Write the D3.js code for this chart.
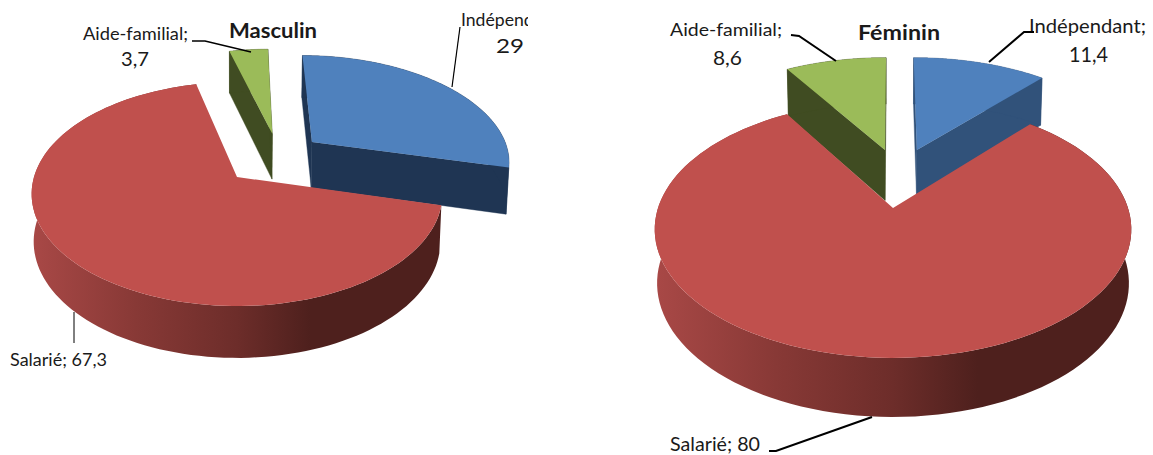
<!DOCTYPE html>
<html><head><meta charset="utf-8">
<script src="https://cdn.jsdelivr.net/npm/d3@7"></script>
<style>html,body{margin:0;padding:0;background:#fff}svg{display:block}text{font-family:Lato,"Open Sans",sans-serif;fill:#1a1a1a}</style>
</head><body><svg id="c" width="1153" height="455"></svg>
<script>
const categories = ["Indépendant", "Salarié", "Aide-familial"];
const masculinValues = [29, 67.3, 3.7];
const femininValues = [11.4, 80, 8.6];
const topColors = ["#4f81bd", "#c0504d", "#9bbb59"];

const svg = d3.select("#c");
const defs = svg.append("defs");
defs.append("clipPath").attr("id","clipInd").append("rect").attr("x",440).attr("y",0).attr("width",88).attr("height",60);

function drawPie3D(cfg){
  const pie = d3.pie().sort(null).startAngle(0).endAngle(2*Math.PI)(cfg.values);
  const gid = "band"+cfg.id;
  const g = defs.append("linearGradient").attr("id",gid).attr("gradientUnits","userSpaceOnUse")
    .attr("x1",cfg.cx-cfg.R).attr("x2",cfg.cx+cfg.R).attr("y1",0).attr("y2",0);
  [[0,"#a84846"],[.25,"#883936"],[.5,"#6d2d2a"],[.68,"#4e201d"],[1,"#4e201d"]]
    .forEach(s=>g.append("stop").attr("offset",s[0]).attr("stop-color",s[1]));

  const proj = (u,v,low)=>{
    const w = 1-cfg.k*v;
    const X = cfg.cx+cfg.R*u/w, Y = cfg.cy+cfg.S*v/w;
    if(!low) return [X,Y];
    return [cfg.cx+(X-cfg.cx)*cfg.shrink, Y+cfg.depth/Math.pow(w,cfg.p)];
  };
  const line = d3.line();
  const layer = svg.append("g");
  [0,2,1].forEach(i=>{
    const a = pie[i], ex = cfg.explode[i];
    const rim = t=>[ex[0]+Math.sin(t), ex[1]-Math.cos(t)];
    const ts = d3.range(0,121).map(n=>a.startAngle+(a.endAngle-a.startAngle)*n/120);
    const topRim = ts.map(t=>proj(...rim(t),false));
    const lowRim = ts.map(t=>proj(...rim(t),true));
    const cT = proj(ex[0],ex[1],false), cL = proj(ex[0],ex[1],true);
    const wall = cfg.walls[i];
    [[topRim[0],lowRim[0]],[topRim[120],lowRim[120]]].forEach(e=>{
      if(i===1) return;
      layer.append("path").attr("d",line([cT,e[0],e[1],cL])+"Z").attr("fill",wall).attr("stroke",wall).attr("stroke-width",.4);
    });
    const band = layer.append("path").attr("d",line(topRim.concat(lowRim.slice().reverse()))+"Z");
    if(i===1) band.attr("fill",`url(#${gid})`); else band.attr("fill",wall).attr("stroke",wall).attr("stroke-width",.4);
    layer.append("path").attr("d",line([cT].concat(topRim))+"Z").attr("fill",topColors[i]);
  });
}

drawPie3D({id:"M",values:masculinValues,cx:237,cy:177,R:203,S:109.4,k:.152,depth:47,p:.6,shrink:.99,
  explode:[[.388,-.336],[0,0],[.185,-.42]],walls:["#1f3553","#000","#404c22"]});
drawPie3D({id:"F",values:femininValues,cx:893,cy:208,R:235,S:125,k:.166,depth:53,p:.6,shrink:.99,
  explode:[[.11,-.503],[0,0],[-.037,-.503]],walls:["#31527a","#000","#404c22"]});

const labelRows = [
 ["Aide-familial;",83,40,105,17,400],["3,7",121,66,28,19,400],
 ["Masculin",229,38,88,21,700],
 ["Salarié; 67,3",10,366,97,18,400],
 ["Aide-familial;",670,36,112,18,400],["8,6",713,65,29,20,400],
 ["Féminin",858,40,82,21,700],
 ["Indépendant;",1029,33,117,19,400],["11,4",1069,62,39,21,400],
 ["Salarié; 80",670,451,90,19,400]
];
labelRows.forEach(l=>svg.append("text").text(l[0]).attr("x",l[1]).attr("y",l[2]).attr("textLength",l[3])
  .attr("lengthAdjust","spacingAndGlyphs").attr("font-size",l[4]).attr("font-weight",l[5]));
svg.append("text").text("Indépendant;").attr("x",461).attr("y",26).attr("textLength",102)
  .attr("lengthAdjust","spacingAndGlyphs").attr("font-size",17).attr("clip-path","url(#clipInd)");
svg.append("text").text("29").attr("x",496).attr("y",53).attr("textLength",28)
  .attr("lengthAdjust","spacingAndGlyphs").attr("font-size",20);

const leaders = [
 [[[192,41],[205,41],[251,52]],1.6],[[[460,27],[452,87]],1.2],[[[74,312],[74,343]],1],
 [[[791,35],[799,36],[836,61]],2],[[[1034,32],[1024,32],[989,62]],2],[[[769,451],[776,451],[872,417]],2.2]
];
leaders.forEach(l=>svg.append("path").attr("d",d3.line()(l[0])).attr("fill","none").attr("stroke","#000").attr("stroke-width",l[1]));
</script></body></html>
